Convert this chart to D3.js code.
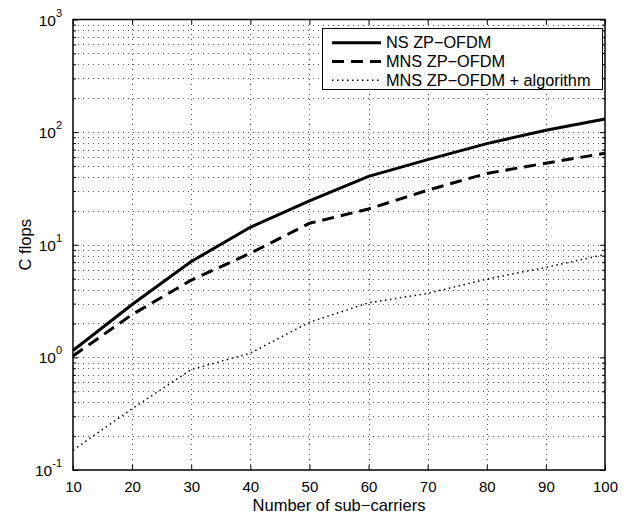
<!DOCTYPE html>
<html>
<head>
<meta charset="utf-8">
<script src="https://cdn.jsdelivr.net/npm/d3@7"></script>
<style>
  body { margin: 0; background: #fff; }
  text { font-family: "Liberation Sans", Arial, Helvetica, sans-serif; fill: #000; }
</style>
</head>
<body>
<script>
var width = 631;
var height = 516;
var margin = {top: 19.5, left: 73, bottom: 46, right: 26};

// data
var subCarriers = [10, 20, 30, 40, 50, 60, 70, 80, 90, 100];
var nsFlops  = [1.15, 2.95, 7.1, 14.3, 24.5, 40.5, 57, 79, 104, 131];
var mnsFlops = [1.03, 2.4, 4.85, 8.4, 15.5, 20.8, 30.5, 43, 53, 65];
var algFlops = [0.15, 0.35, 0.78, 1.09, 2.05, 3.05, 3.7, 4.95, 6.3, 8.2];

var seriesNames = ["NS ZP\u2212OFDM", "MNS ZP\u2212OFDM", "MNS ZP\u2212OFDM + algorithm"];
var xTicks = [10, 20, 30, 40, 50, 60, 70, 80, 90, 100];
var yDecades = [-1, 0, 1, 2, 3];
var xLabel = "Number of sub\u2212carriers";
var yLabel = "C flops";

var styles = [
  {width: 3, dash: null},
  {width: 3, dash: "12,7"},
  {width: 1.5, dash: "1.5,3.5"}
];
var series = [nsFlops, mnsFlops, algFlops];

var svg = d3.select("body")
  .append("svg")
  .attr("width", width)
  .attr("height", height);

svg.append("rect")
  .attr("width", width)
  .attr("height", height)
  .attr("fill", "#fff");

var x0 = margin.left, x1 = width - margin.right;
var y0 = height - margin.bottom, y1 = margin.top;

var x = d3.scaleLinear().domain([10, 100]).range([x0, x1]);
var y = d3.scaleLog().domain([0.1, 1000]).range([y0, y1]);

// minor log values 2..9 in each decade
var yMinor = [];
yDecades.slice(0, -1).forEach(function(p) {
  for (var k = 2; k <= 9; k++) yMinor.push(k * Math.pow(10, p));
});
var yMajor = yDecades.map(function(p) { return Math.pow(10, p); });

// grid
var grid = svg.append("g").attr("class", "grid")
  .attr("stroke", "#555")
  .attr("stroke-width", 1)
  .attr("stroke-dasharray", "1,4");

grid.selectAll("line.gx")
  .data(xTicks.slice(1, -1))
  .enter().append("line")
  .attr("x1", d => Math.round(x(d)) + 0.5).attr("x2", d => Math.round(x(d)) + 0.5)
  .attr("y1", y0).attr("y2", y1);

grid.selectAll("line.gy")
  .data(yMinor.concat(yMajor.slice(1, -1)))
  .enter().append("line")
  .attr("y1", d => Math.round(y(d)) + 0.5).attr("y2", d => Math.round(y(d)) + 0.5)
  .attr("x1", x0).attr("x2", x1);

// data lines
var line = d3.line()
  .x((d, i) => x(subCarriers[i]))
  .y(d => y(d));

svg.append("g").attr("class", "lines")
  .selectAll("path")
  .data(series)
  .enter().append("path")
  .attr("d", line)
  .attr("fill", "none")
  .attr("stroke", "#000")
  .attr("stroke-width", (d, i) => styles[i].width)
  .attr("stroke-dasharray", (d, i) => styles[i].dash)
  .attr("stroke-linejoin", "round");

// axes: ticks inside on all four sides
var axes = svg.append("g").attr("class", "axes");

axes.append("g")
  .attr("transform", "translate(0," + y0 + ")")
  .call(d3.axisBottom(x).tickValues(xTicks).tickSizeInner(-5).tickSizeOuter(0).tickPadding(11))
  .call(g => g.select(".domain").remove());
axes.append("g")
  .attr("transform", "translate(0," + y1 + ")")
  .call(d3.axisTop(x).tickValues(xTicks).tickSizeInner(-5).tickSizeOuter(0).tickFormat(""))
  .call(g => g.select(".domain").remove());

var yAxisL = d3.axisLeft(y).tickValues(yMajor).tickSizeInner(-5).tickSizeOuter(0).tickFormat("");
var yAxisR = d3.axisRight(y).tickValues(yMajor).tickSizeInner(-5).tickSizeOuter(0).tickFormat("");
axes.append("g").attr("transform", "translate(" + x0 + ",0)").call(yAxisL)
  .call(g => g.select(".domain").remove());
axes.append("g").attr("transform", "translate(" + x1 + ",0)").call(yAxisR)
  .call(g => g.select(".domain").remove());
axes.append("g").attr("transform", "translate(" + x0 + ",0)")
  .call(d3.axisLeft(y).tickValues(yMinor).tickSizeInner(-3).tickSizeOuter(0).tickFormat(""))
  .call(g => g.select(".domain").remove());
axes.append("g").attr("transform", "translate(" + x1 + ",0)")
  .call(d3.axisRight(y).tickValues(yMinor).tickSizeInner(-3).tickSizeOuter(0).tickFormat(""))
  .call(g => g.select(".domain").remove());

axes.selectAll(".tick line").attr("stroke", "#000");
axes.selectAll(".tick text")
  .attr("font-size", 15)
  .attr("font-family", "Liberation Sans, Arial, sans-serif");

// y tick labels 10^n
var yLab = svg.append("g").attr("class", "ylabels")
  .selectAll("text")
  .data(yDecades)
  .enter().append("text")
  .attr("x", x0 - 11)
  .attr("y", d => y(Math.pow(10, d)) + 6)
  .attr("text-anchor", "end")
  .attr("font-size", 15.5);
yLab.append("tspan").text("10");
yLab.append("tspan")
  .attr("dy", -9)
  .attr("font-size", 11)
  .text(d => d);

// box
svg.append("rect")
  .attr("x", x0).attr("y", y1)
  .attr("width", x1 - x0).attr("height", y0 - y1)
  .attr("fill", "none")
  .attr("stroke", "#000")
  .attr("stroke-width", 1.5);

// axis titles
svg.append("text")
  .attr("x", (x0 + x1) / 2)
  .attr("y", 511)
  .attr("text-anchor", "middle")
  .attr("font-size", 16.5)
  .text(xLabel);

svg.append("text")
  .attr("transform", "translate(31," + ((y0 + y1) / 2) + ")rotate(-90)")
  .attr("text-anchor", "middle")
  .attr("font-size", 16.5)
  .text(yLabel);

// legend
var legend = svg.append("g").attr("class", "legend");
legend.append("rect")
  .attr("x", 322.5).attr("y", 28.5)
  .attr("width", 280).attr("height", 61)
  .attr("fill", "#fff")
  .attr("stroke", "#000")
  .attr("stroke-width", 1);

var rows = legend.selectAll("g.row")
  .data(seriesNames)
  .enter().append("g")
  .attr("class", "row")
  .attr("transform", (d, i) => "translate(0," + (42.7 + i * 18.8) + ")");

rows.append("line")
  .attr("x1", 332).attr("x2", 381)
  .attr("y1", 0).attr("y2", 0)
  .attr("stroke", "#000")
  .attr("stroke-width", (d, i) => styles[i].width)
  .attr("stroke-dasharray", (d, i) => styles[i].dash);

rows.append("text")
  .attr("x", 386)
  .attr("y", 5.5)
  .attr("font-size", 16.3)
  .text(d => d);
</script>
</body>
</html>
